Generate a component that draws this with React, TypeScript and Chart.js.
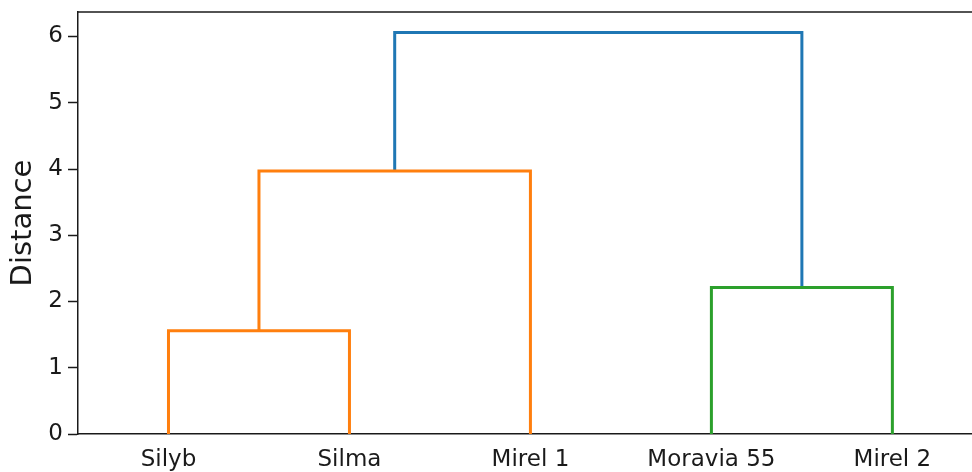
import React, { useEffect, useRef } from "react";
import { Chart, registerables } from "chart.js";

Chart.register(...registerables);

// Leaves (scipy convention: leaf positions 5, 15, 25, ...)
const leafLabels = ["Silyb", "Silma", "Mirel 1", "Moravia 55", "Mirel 2"];
const leafPositions = [5, 15, 25, 35, 45];

// Dendrogram links (icoord / dcoord style)
const linkLeftX = [5, 10, 35, 17.5];
const linkRightX = [15, 25, 45, 40];
const linkLeftY = [0, 1.56, 0, 3.97];
const linkRightY = [0, 0, 0, 2.21];
const linkHeight = [1.56, 3.97, 2.21, 6.06];
const linkColors = ["#ff7f0e", "#ff7f0e", "#2ca02c", "#1f77b4"];

const yTicks = [0, 1, 2, 3, 4, 5, 6];

const FONT = "'DejaVu Sans', sans-serif";
const AXIS_COLOR = "#1a1a1a";

const topSpine = {
  id: "topSpine",
  afterDraw(chart: any) {
    const { ctx, chartArea } = chart;
    ctx.save();
    ctx.strokeStyle = AXIS_COLOR;
    ctx.lineWidth = 1.5;
    ctx.beginPath();
    ctx.moveTo(chartArea.left, chartArea.top);
    ctx.lineTo(chart.width, chartArea.top);
    ctx.stroke();
    ctx.restore();
  },
};

export default function App() {
  const ref = useRef<HTMLCanvasElement>(null);

  useEffect(() => {
    if (!ref.current) return;
    const datasets = linkLeftX.map((lx, i) => ({
      data: [
        { x: lx, y: linkLeftY[i] },
        { x: lx, y: linkHeight[i] },
        { x: linkRightX[i], y: linkHeight[i] },
        { x: linkRightX[i], y: linkRightY[i] },
      ],
      borderColor: linkColors[i],
      backgroundColor: linkColors[i],
      borderWidth: 3,
      pointRadius: 0,
      showLine: true,
      fill: false,
      tension: 0,
      borderJoinStyle: "miter" as const,
      borderCapStyle: "butt" as const,
      clip: false as any,
    }));

    const chart = new Chart(ref.current, {
      type: "scatter",
      data: { datasets },
      plugins: [topSpine],
      options: {
        animation: false,
        responsive: false,
        layout: { padding: { top: 12, left: 0, right: 0, bottom: 0 } },
        plugins: {
          legend: { display: false },
          tooltip: { enabled: false },
        },
        scales: {
          x: {
            type: "linear",
            min: 0,
            max: 49.4,
            afterBuildTicks: (scale: any) => {
              scale.ticks = leafPositions.map((v) => ({ value: v }));
            },
            afterFit: (scale: any) => {
              scale.height = 38;
              scale.paddingLeft = 0;
              scale.paddingRight = 0;
            },
            ticks: {
              autoSkip: false,
              maxRotation: 0,
              padding: 12,
              color: AXIS_COLOR,
              font: { family: FONT, size: 23 },
              callback: (v: any) => {
                const idx = leafPositions.indexOf(Number(v));
                return idx >= 0 ? leafLabels[idx] : "";
              },
            },
            grid: { display: false, drawTicks: false },
            border: { display: true, color: AXIS_COLOR, width: 1.5 },
          },
          y: {
            type: "linear",
            min: 0,
            max: 6.37,
            afterBuildTicks: (scale: any) => {
              scale.ticks = yTicks.map((v) => ({ value: v }));
            },
            afterFit: (scale: any) => {
              scale.width = 78;
              scale.paddingTop = 0;
              scale.paddingBottom = 0;
            },
            title: {
              display: true,
              text: "Distance",
              color: AXIS_COLOR,
              font: { family: FONT, size: 29 },
              padding: { top: 6, bottom: 0 },
            },
            ticks: {
              padding: 5,
              color: AXIS_COLOR,
              font: { family: FONT, size: 23 },
            },
            grid: {
              display: true,
              drawOnChartArea: false,
              drawTicks: true,
              tickLength: 10,
              tickColor: AXIS_COLOR,
              tickWidth: 1.5,
            },
            border: { display: true, color: AXIS_COLOR, width: 1.5 },
          },
        },
      },
    });
    return () => chart.destroy();
  }, []);

  return (
    <div style={{ position: "absolute", left: 0, top: 0, width: 972, height: 472, background: "#fff" }}>
      <canvas ref={ref} width={972} height={472} style={{ display: "block" }} />
    </div>
  );
}
